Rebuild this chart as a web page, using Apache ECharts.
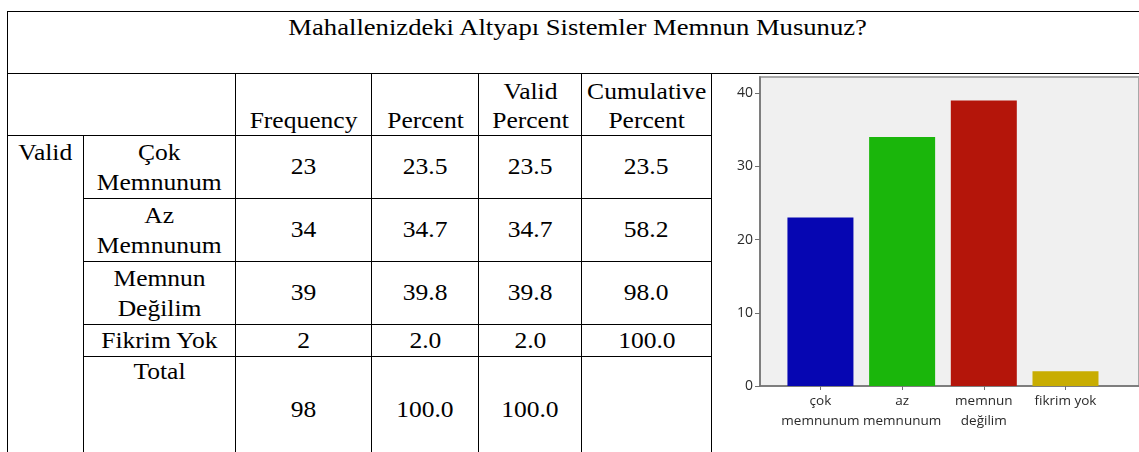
<!DOCTYPE html>
<html>
<head>
<meta charset="utf-8">
<script src="https://cdn.jsdelivr.net/npm/echarts@6/dist/echarts.min.js"></script>
<style>
html, body { margin: 0; padding: 0; background: #fff; overflow: hidden; width: 1139px; height: 452px; }
.tbl {
    position: absolute; left: 7px; top: 11px;
    border-collapse: collapse; table-layout: fixed; width: 1140px;
    font-family: "Liberation Serif", "Times New Roman", serif; font-size: 23px; color: #000;
}
.tbl td { border: 1px solid #000; padding: 0; text-align: center; white-space: nowrap; vertical-align: middle; }
.tbl .title { vertical-align: top; line-height: 29px; padding-top: 1px; font-size: 24px; }
.tbl .head td { vertical-align: bottom; line-height: 28.5px; }
.tbl .lbl { vertical-align: top; line-height: 30px; padding-top: 2px; }
.s { display: inline-block; transform: scaleX(1.11); }
#chart { position: absolute; left: 712px; top: 74px; width: 427px; height: 378px; z-index: 2; }
</style>
</head>
<body>
<table class="tbl" id="tbl"></table>
<div id="chart"></div>
<script>
// tablo verileri
const title = 'Mahallenizdeki Altyapı Sistemler Memnun Musunuz?'
const headers = ['Frequency', 'Percent', 'Valid\nPercent', 'Cumulative\nPercent']
const rowLabels = ['Çok\nMemnunum', 'Az\nMemnunum', 'Memnun\nDeğilim', 'Fikrim Yok']
const frequency = [23, 34, 39, 2]
const percent = ['23.5', '34.7', '39.8', '2.0']
const validPercent = ['23.5', '34.7', '39.8', '2.0']
const cumulative = ['23.5', '58.2', '98.0', '100.0']
const totalRow = ['98', '100.0', '100.0', '']

// grafik verileri
const chartLabels = ['çok\nmemnunum', 'az\nmemnunum', 'memnun\ndeğilim', 'fikrim yok']
const xTicks = [0, 1, 2, 3]
const yTicks = [0, 10, 20, 30, 40]
const barColors = ['#0606b2', '#1ab60b', '#b4150a', '#c8ad02']

const colWidths = [76, 152, 136, 107, 103, 130, 436]
const rowHeights = [62, 62, 63, 62, 63, 32, 106]

function txt (t) {
    if (t === '') return ''
    return '<span class="s">' + t.split('\n').join('<br>') + '</span>'
}

let html = '<colgroup>' + colWidths.map(w => '<col style="width:' + w + 'px">').join('') + '</colgroup>'
html += '<tr style="height:' + rowHeights[0] + 'px"><td class="title" colspan="7">' + txt(title) + '</td></tr>'
html += '<tr class="head" style="height:' + rowHeights[1] + 'px"><td colspan="2"></td>' +
    headers.map(h => '<td>' + txt(h) + '</td>').join('') +
    '<td rowspan="6" style="vertical-align:top"></td></tr>'
rowLabels.forEach((lbl, i) => {
    html += '<tr style="height:' + rowHeights[i + 2] + 'px">'
    if (i === 0) html += '<td class="lbl" rowspan="5">' + txt('Valid') + '</td>'
    const cls = lbl.indexOf('\n') >= 0 ? 'lbl' : ''
    html += '<td class="' + cls + '"' + (cls ? '' : ' style="line-height:29px"') + '>' + txt(lbl) + '</td>'
    html += '<td>' + txt(String(frequency[i])) + '</td>'
    html += '<td>' + txt(percent[i]) + '</td>'
    html += '<td>' + txt(validPercent[i]) + '</td>'
    html += '<td>' + txt(cumulative[i]) + '</td>'
    html += '</tr>'
})
html += '<tr style="height:' + rowHeights[6] + 'px"><td class="lbl" style="padding-top:0">' + txt('Total') + '</td>' +
    totalRow.map(v => '<td>' + txt(v) + '</td>').join('') + '</tr>'
document.getElementById('tbl').innerHTML = html

const myChart = echarts.init(document.getElementById('chart'))
myChart.setOption({
    animation: false,
    grid: {
        left: 48,
        right: -20,
        top: 3,
        bottom: 66,
        show: true,
        backgroundColor: '#f0f0f0',
        borderColor: '#a8a8a8',
        borderWidth: 2
    },
    xAxis: {
        type: 'value',
        min: -0.74,
        max: 3.9,
        axisLine: { onZero: false, lineStyle: { color: '#707070', width: 1.5 } },
        axisTick: { customValues: xTicks, length: 4, lineStyle: { color: '#707070' } },
        axisLabel: {
            customValues: xTicks,
            formatter: v => chartLabels[Math.round(v)],
            showMinLabel: true,
            showMaxLabel: true,
            hideOverlap: false,
            color: '#2a2a2a',
            fontFamily: 'Open Sans',
            fontSize: 13.5,
            lineHeight: 20,
            verticalAlign: 'top',
            margin: 5
        },
        splitLine: { show: false }
    },
    yAxis: {
        type: 'value',
        min: 0,
        max: 42.2,
        axisLine: { show: true, onZero: false, lineStyle: { color: '#707070', width: 1.5 } },
        axisTick: { show: true, customValues: yTicks, length: 5, lineStyle: { color: '#707070' } },
        axisLabel: {
            customValues: yTicks,
            color: '#2a2a2a',
            fontFamily: 'Open Sans',
            fontSize: 14,
            margin: 7
        },
        splitLine: { show: false }
    },
    series: [{
        type: 'bar',
        barWidth: 66,
        data: frequency.map((v, i) => ({
            value: [i, v],
            itemStyle: { color: barColors[i] }
        }))
    }]
})
</script>
</body>
</html>
